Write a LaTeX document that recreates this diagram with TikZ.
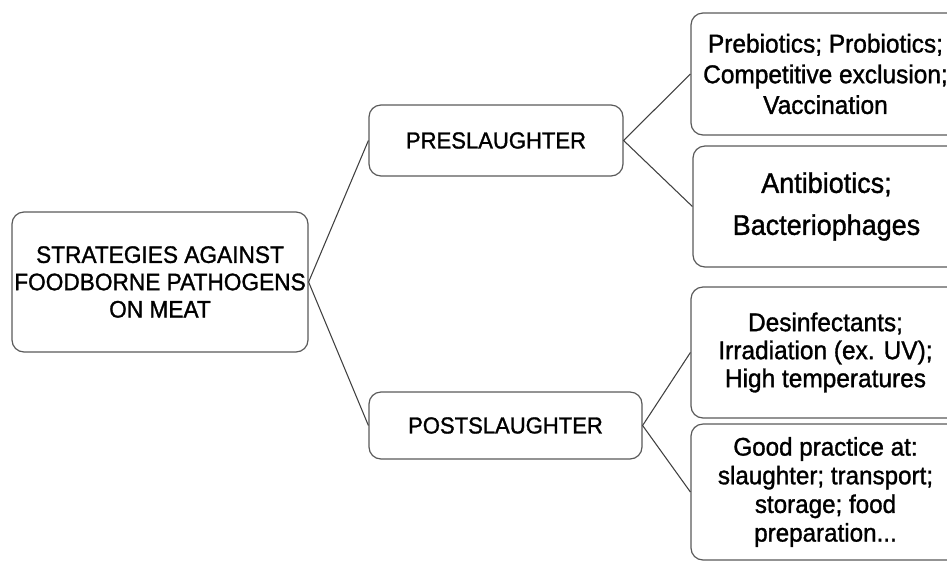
\documentclass[tikz,border=0pt]{standalone}
\usepackage{fontspec}
\setmainfont{Liberation Sans}[FakeStretch=0.95,FakeBold=1.2]
\usepackage{xcolor}

\begin{document}
\begin{tikzpicture}[x=0.75pt,y=-0.75pt]

% Canvas: 947 x 562 px, one unit = one pixel, y runs downwards.
\definecolor{Cedge}{RGB}{90,90,90}    % box outline
\definecolor{Cline}{RGB}{64,64,64}    % connectors

\tikzset{
  box/.style={draw=Cedge,line width=0.9pt,rounded corners=9pt,fill=white,
              align=center,inner sep=0pt,text=black},
  link/.style={draw=Cline,line width=0.8pt}
}

\useasboundingbox (0,0) rectangle (947,562);
\clip (0,0) rectangle (947,562);

% ── Root ─────────────────────────────────────────────────────────────────────
\node[box,minimum width=296*0.75pt,minimum height=140*0.75pt,
      font=\fontsize{17.9}{20.5}\selectfont] (root) at (160,282)
  {STRATEGIES AGAINST\\FOODBORNE PATHOGENS\\ON MEAT};

% ── Stages ───────────────────────────────────────────────────────────────────
\node[box,minimum width=254*0.75pt,minimum height=71*0.75pt,
      font=\fontsize{17.4}{20.5}\selectfont] (pre) at (496,140.5)
  {PRESLAUGHTER};
\node[box,minimum width=273*0.75pt,minimum height=67*0.75pt,
      font=\fontsize{17.4}{20.5}\selectfont] (post) at (505.5,425.5)
  {POSTSLAUGHTER};

% ── Measures (boxes run past the right edge) ─────────────────────────────────
\node[box,minimum width=269*0.75pt,minimum height=122*0.75pt,
      font=\fontsize{19.3}{23}\selectfont] (prebio) at (825.5,74)
  {Prebiotics; Probiotics;\\Competitive exclusion;\\Vaccination};
\node[box,minimum width=267*0.75pt,minimum height=121*0.75pt,
      font=\fontsize{21.3}{31.5}\selectfont] (antibio) at (826.5,206.5)
  {Antibiotics;\\Bacteriophages};
\node[box,minimum width=269*0.75pt,minimum height=131*0.75pt,
      font=\fontsize{19.3}{21}\selectfont] (desinf) at (825.5,352.5)
  {Desinfectants;\\Irradiation (ex. UV);\\High temperatures};
\node[box,minimum width=269*0.75pt,minimum height=136*0.75pt,
      font=\fontsize{19.1}{21.5}\selectfont] (good) at (825.5,492)
  {Good practice at:\\slaughter; transport;\\storage; food\\preparation...};

% ── Connectors ───────────────────────────────────────────────────────────────
\draw[link] (pre.west) -- (root.east) -- (post.west);
\draw[link] (prebio.west) -- (pre.east) -- (antibio.west);
\draw[link] (desinf.west) -- (post.east) -- (good.west);

\end{tikzpicture}
\end{document}
